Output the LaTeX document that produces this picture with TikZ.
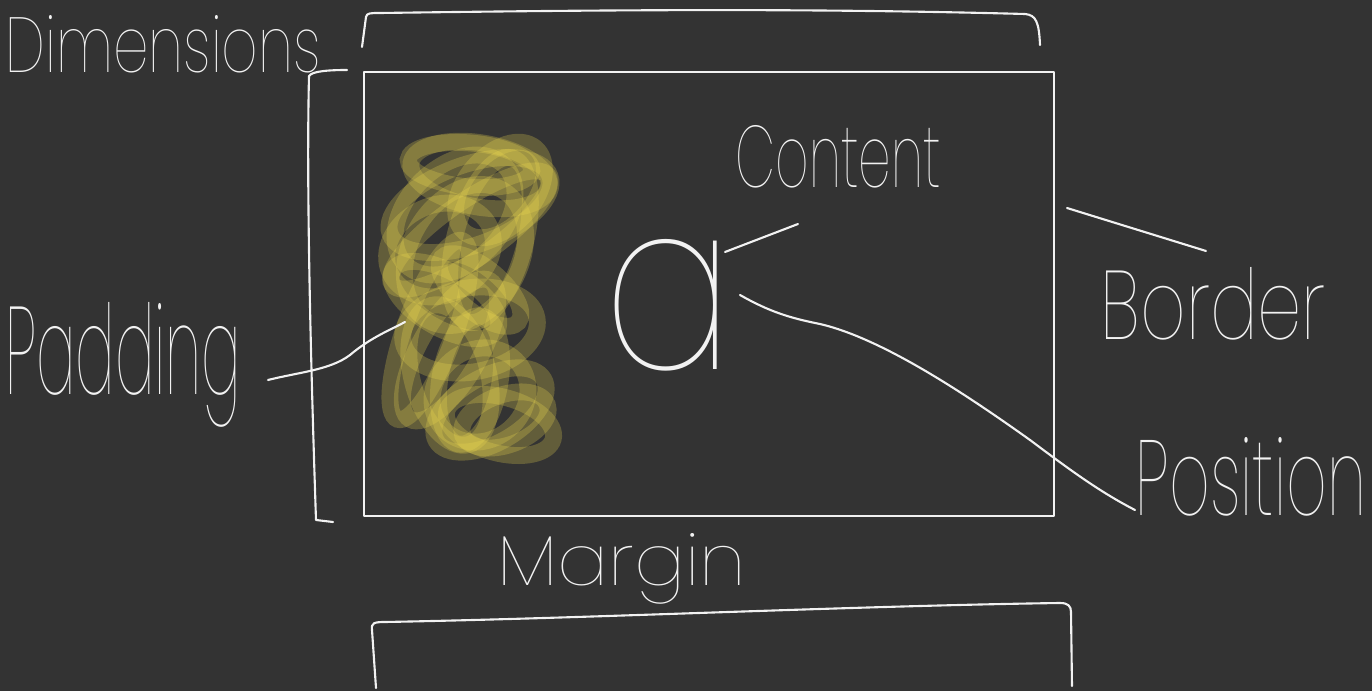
\documentclass[tikz,border=0pt]{standalone}
\usepackage{fontspec}
\usepackage{graphicx}
\newfontfamily\hand{Poppins Thin}
\definecolor{bg}{HTML}{333333}
\definecolor{ink}{HTML}{F2F2F2}
\definecolor{hl}{HTML}{F0DC50}
\newcommand\lblfit[3]{\resizebox{#1cm}{#2cm}{\hand #3}}
\tikzset{
  inkline/.style={draw=ink, line width=0.6pt, line cap=round, line join=round},
  lbl/.style={text=ink, inner sep=0pt, anchor=base west},
  scrib/.style={draw=hl, line width=4.8pt, opacity=0.25},
}
\begin{document}
\begin{tikzpicture}[x=0.01cm,y=-0.01cm]
\useasboundingbox (0,0) rectangle (1372,691);
\fill[bg] (0,0) rectangle (1372,691);

% main box (border)
\node[inkline, draw, minimum width=6.9cm, minimum height=4.44cm, inner sep=0pt] (box) at (709,294) {};

% highlighted padding scribble
\begin{scope}
\draw[scrib, rotate around={-10:(480,175)}] (480,175) ellipse [x radius=70, y radius=32];
\draw[scrib, rotate around={20:(470,205)}] (470,205) ellipse [x radius=85, y radius=40];
\draw[scrib, rotate around={60:(465,255)}] (465,255) ellipse [x radius=75, y radius=55];
\draw[scrib, rotate around={35:(470,230)}] (470,230) ellipse [x radius=95, y radius=28];
\draw[scrib, rotate around={-30:(445,300)}] (445,300) ellipse [x radius=60, y radius=28];
\draw[scrib, rotate around={10:(470,330)}] (470,330) ellipse [x radius=68, y radius=42];
\draw[scrib, rotate around={15:(450,375)}] (450,375) ellipse [x radius=38, y radius=72];
\draw[scrib, rotate around={30:(490,410)}] (490,410) ellipse [x radius=62, y radius=33];
\draw[scrib, rotate around={-15:(500,425)}] (500,425) ellipse [x radius=55, y radius=28];
\draw[scrib, rotate around={70:(430,330)}] (430,330) ellipse [x radius=95, y radius=25];
\draw[scrib, rotate around={40:(480,395)}] (480,395) ellipse [x radius=50, y radius=45];
\draw[scrib, rotate around={-5:(470,165)}] (470,165) ellipse [x radius=62, y radius=22];
\draw[scrib, rotate around={45:(455,215)}] (455,215) ellipse [x radius=70, y radius=48];
\draw[scrib, rotate around={75:(490,240)}] (490,240) ellipse [x radius=85, y radius=35];
\draw[scrib, rotate around={25:(440,250)}] (440,250) ellipse [x radius=55, y radius=45];
\draw[scrib, rotate around={60:(450,350)}] (450,350) ellipse [x radius=80, y radius=30];
\draw[scrib, rotate around={80:(470,380)}] (470,380) ellipse [x radius=65, y radius=30];
\draw[scrib, rotate around={20:(505,420)}] (505,420) ellipse [x radius=45, y radius=25];
\draw[scrib, rotate around={-40:(480,290)}] (480,290) ellipse [x radius=50, y radius=22];
\draw[scrib, rotate around={50:(500,190)}] (500,190) ellipse [x radius=55, y radius=35];
\end{scope}

% labels
\node[lbl] (dim) at (5,73) {\lblfit{3.15}{0.57}{Dimensions}};
\node[lbl] (content) at (735,188) {\lblfit{2.05}{0.62}{Content}};
\node[lbl] (padding) at (5,395) {\lblfit{2.35}{0.92}{Padding}};
\node[lbl] (border) at (1100,340) {\lblfit{2.25}{0.72}{Border}};
\node[lbl] (position) at (1135,515) {\lblfit{2.30}{0.78}{Position}};
\node[lbl] (margin) at (497,585) {\lblfit{2.48}{0.52}{Margin}};
\node[text=ink, inner sep=0pt, anchor=south west] (glyph) at (603,372) {\resizebox{1.3cm}{1.3cm}{\hand a}};

% brackets
\draw[inkline] (362,47) -- (366,17) .. controls (367,13) and (370,13) .. (380,13)
  .. controls (600,10) and (800,8) .. (1025,14) .. controls (1036,15) and (1039,22) .. (1040,45);
\draw[inkline] (347,70) .. controls (330,70) and (312,71) .. (309,76)
  .. controls (306,200) and (312,400) .. (316,520) -- (333,522);
\draw[inkline] (376,688) -- (372,630) .. controls (371,623) and (374,622) .. (385,622)
  .. controls (600,618) and (850,606) .. (1060,603) .. controls (1068,603) and (1071,606) .. (1071,612) -- (1072,686);

% connectors
\coordinate (c1) at (725,252); \coordinate (c2) at (798,224);
\draw[inkline] (c1) -- (c2);
\coordinate (b1) at (1067,208); \coordinate (b2) at (1206,251);
\draw[inkline] (b1) -- (b2);
\coordinate (p1) at (268,380); \coordinate (p2) at (405,322);
\draw[inkline] (p1) .. controls (300,372) and (330,370) .. (350,355) .. controls (370,338) and (390,330) .. (p2);
\coordinate (q1) at (740,295); \coordinate (q2) at (1135,510);
\draw[inkline] (q1) .. controls (770,312) and (790,318) .. (820,324)
  .. controls (880,338) and (960,390) .. (1030,440)
  .. controls (1070,470) and (1100,492) .. (q2);
\end{tikzpicture}
\end{document}
